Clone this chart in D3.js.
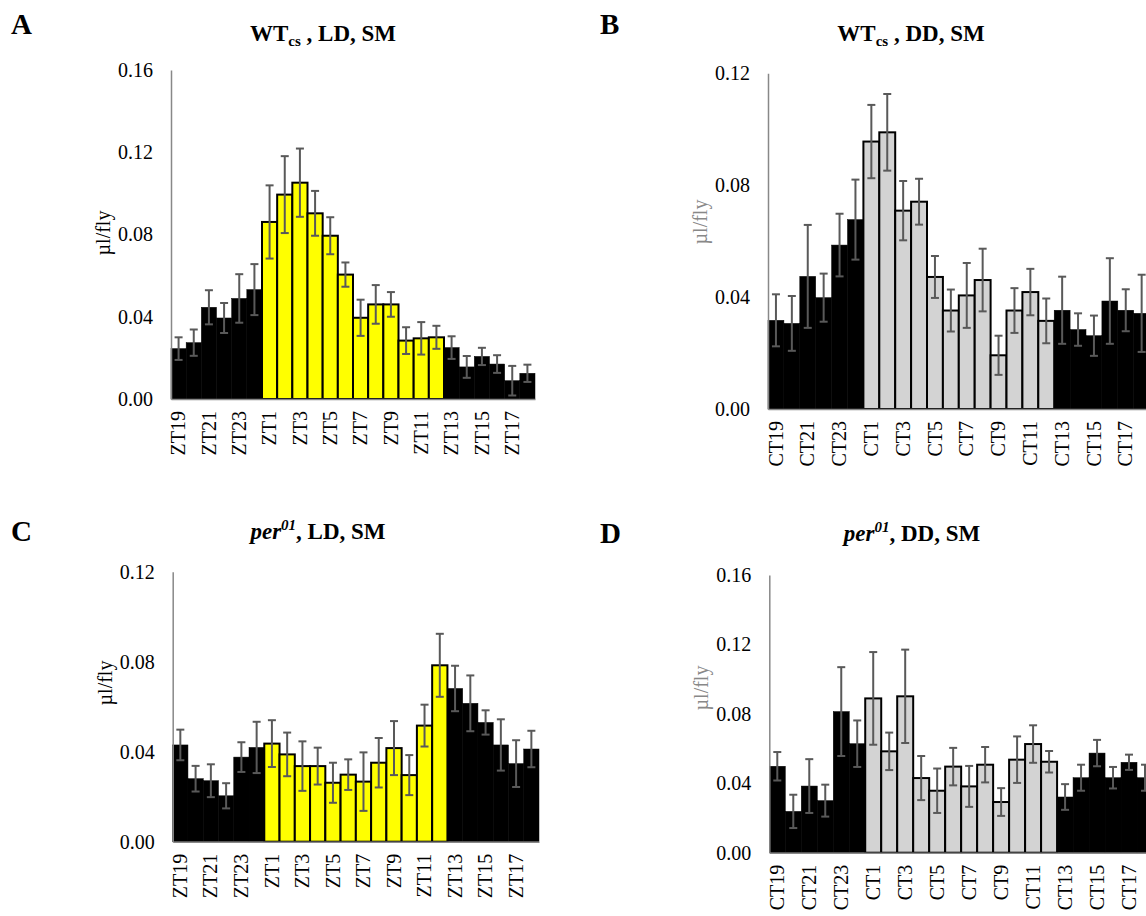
<!DOCTYPE html>
<html>
<head>
<meta charset="utf-8">
<script src="https://cdn.jsdelivr.net/npm/d3@7"></script>
<style>
  html, body { margin: 0; padding: 0; background: #fff; }
  svg { display: block; font-family: "Liberation Serif", "Times New Roman", serif; }
</style>
</head>
<body>
<svg id="chart" width="1146" height="916"></svg>
<script>
// ---------------- DATA ----------------
const ztCategories = ["ZT19","ZT20","ZT21","ZT22","ZT23","ZT24","ZT1","ZT2","ZT3","ZT4","ZT5","ZT6",
                      "ZT7","ZT8","ZT9","ZT10","ZT11","ZT12","ZT13","ZT14","ZT15","ZT16","ZT17","ZT18"];
const ctCategories = ["CT19","CT20","CT21","CT22","CT23","CT24","CT1","CT2","CT3","CT4","CT5","CT6",
                      "CT7","CT8","CT9","CT10","CT11","CT12","CT13","CT14","CT15","CT16","CT17","CT18"];
const ztTickLabels = ["ZT19","ZT21","ZT23","ZT1","ZT3","ZT5","ZT7","ZT9","ZT11","ZT13","ZT15","ZT17"];
const ctTickLabels = ["CT19","CT21","CT23","CT1","CT3","CT5","CT7","CT9","CT11","CT13","CT15","CT17"];
// phase of each time point: 0 = dark / subjective night, 1 = light / subjective day
const phase = [0,0,0,0,0,0, 1,1,1,1,1,1,1,1,1,1,1,1, 0,0,0,0,0,0];

const wtLDmean = [0.0245,0.0274,0.0446,0.0394,0.0489,0.0532,0.0861,0.0994,0.1052,0.0903,0.0794,0.0605,
                  0.0395,0.0460,0.0460,0.0284,0.0295,0.0300,0.0250,0.0156,0.0207,0.0170,0.0089,0.0125];
const wtLDerr  = [0.0055,0.0064,0.0083,0.0073,0.0118,0.0124,0.0178,0.0187,0.0166,0.0109,0.0090,0.0059,
                  0.0088,0.0094,0.0060,0.0065,0.0079,0.0056,0.0055,0.0053,0.0042,0.0043,0.0072,0.0042];

const wtDDmean = [0.0317,0.0306,0.0474,0.0398,0.0586,0.0677,0.0956,0.0989,0.0709,0.0741,0.0472,0.0352,
                  0.0406,0.0461,0.0192,0.0352,0.0418,0.0315,0.0353,0.0284,0.0262,0.0386,0.0353,0.0342];
const wtDDerr  = [0.0093,0.0098,0.0184,0.0086,0.0112,0.0143,0.0131,0.0137,0.0106,0.0082,0.0075,0.0075,
                  0.0116,0.0112,0.0070,0.0080,0.0083,0.0080,0.0120,0.0058,0.0072,0.0153,0.0075,0.0138];

const perLDmean = [0.0430,0.0280,0.0271,0.0204,0.0376,0.0419,0.0436,0.0388,0.0336,0.0336,0.0262,0.0298,
                   0.0267,0.0351,0.0416,0.0296,0.0516,0.0784,0.0681,0.0615,0.0530,0.0430,0.0347,0.0412];
const perLDerr  = [0.0068,0.0057,0.0073,0.0056,0.0066,0.0114,0.0104,0.0097,0.0110,0.0082,0.0089,0.0068,
                   0.0130,0.0110,0.0120,0.0089,0.0093,0.0140,0.0101,0.0124,0.0054,0.0114,0.0104,0.0081];

const perDDmean = [0.0498,0.0238,0.0384,0.0300,0.0813,0.0628,0.0889,0.0584,0.0901,0.0430,0.0357,0.0496,
                   0.0382,0.0507,0.0292,0.0536,0.0626,0.0524,0.0321,0.0432,0.0574,0.0432,0.0521,0.0432];
const perDDerr  = [0.0082,0.0096,0.0155,0.0092,0.0256,0.0134,0.0267,0.0108,0.0269,0.0127,0.0128,0.0108,
                   0.0118,0.0102,0.0080,0.0134,0.0108,0.0062,0.0074,0.0075,0.0076,0.0062,0.0044,0.0075];

const yTicks016 = [0, 0.04, 0.08, 0.12, 0.16];
const yTicks012 = [0, 0.04, 0.08, 0.12];

// ---------------- LAYOUT ----------------
const svg = d3.select("#chart");

const panels = [
  { letter: "A", cats: ztCategories, ticks: ztTickLabels, mean: wtLDmean, err: wtLDerr, lightFill: "#FFFF00",
    yMax: 0.16, yTicks: yTicks016, x0: 171, x1: 535, yTop: 70, yBase: 399,
    letterPos: [11, 34], titleX: 323, titleY: 41, title: "wt", cond: "LD", ylabColor: "#000", ylabY: 233 },
  { letter: "B", cats: ctCategories, ticks: ctTickLabels, mean: wtDDmean, err: wtDDerr, lightFill: "#D3D3D3",
    yMax: 0.12, yTicks: yTicks012, x0: 768, x1: 1149.6, yTop: 73.3, yBase: 409,
    letterPos: [600, 34], titleX: 911, titleY: 41, title: "wt", cond: "DD", ylabColor: "#888", ylabY: 222 },
  { letter: "C", cats: ztCategories, ticks: ztTickLabels, mean: perLDmean, err: perLDerr, lightFill: "#FFFF00",
    yMax: 0.12, yTicks: yTicks012, x0: 172.7, x1: 539, yTop: 571.7, yBase: 841.7,
    letterPos: [11, 541], titleX: 318, titleY: 539, title: "per", cond: "LD", ylabColor: "#000", ylabY: 683 },
  { letter: "D", cats: ctCategories, ticks: ctTickLabels, mean: perDDmean, err: perDDerr, lightFill: "#D3D3D3",
    yMax: 0.16, yTicks: yTicks016, x0: 769.3, x1: 1153, yTop: 575, yBase: 852.7,
    letterPos: [600, 543], titleX: 912, titleY: 541, title: "per", cond: "DD", ylabColor: "#888", ylabY: 688 }
];

panels.forEach(p => {
  const g = svg.append("g");
  const x = d3.scaleBand().domain(p.cats).range([p.x0, p.x1]).padding(0);
  const y = d3.scaleLinear().domain([0, p.yMax]).range([p.yBase, p.yTop]);

  // panel letter
  g.append("text").attr("x", p.letterPos[0]).attr("y", p.letterPos[1])
    .attr("font-size", 29).attr("font-weight", "bold").text(p.letter);

  // title
  const t = g.append("text").attr("x", p.titleX).attr("y", p.titleY)
    .attr("text-anchor", "middle").attr("font-size", 23).attr("font-weight", "bold");
  if (p.title === "wt") {
    t.append("tspan").text("WT");
    t.append("tspan").attr("font-size", 15).attr("dy", 5).text("cs");
    t.append("tspan").attr("dy", -5).text(" , " + p.cond + ", SM");
  } else {
    t.append("tspan").attr("font-style", "italic").text("per");
    t.append("tspan").attr("font-style", "italic").attr("font-size", 15).attr("dy", -9).text("01");
    t.append("tspan").attr("dy", 9).text(", " + p.cond + ", SM");
  }

  // bars
  g.selectAll("rect.bar").data(p.mean).join("rect")
    .attr("class", "bar")
    .attr("x", (d, i) => x(p.cats[i]))
    .attr("width", x.bandwidth())
    .attr("y", d => y(d))
    .attr("height", d => y(0) - y(d))
    .attr("fill", (d, i) => phase[i] ? p.lightFill : "#000")
    .attr("stroke", "#000")
    .attr("stroke-width", (d, i) => phase[i] ? 2 : 0.5);

  // error bars
  const eg = g.append("g").attr("stroke", "#595959").attr("stroke-width", 2).attr("fill", "none");
  p.mean.forEach((m, i) => {
    const cx = x(p.cats[i]) + x.bandwidth() / 2;
    const e = p.err[i];
    const yt = y(m + e), yb = y(Math.max(0, m - e));
    eg.append("line").attr("x1", cx).attr("x2", cx).attr("y1", yt).attr("y2", yb);
    eg.append("line").attr("x1", cx - 4).attr("x2", cx + 4).attr("y1", yt).attr("y2", yt);
    eg.append("line").attr("x1", cx - 4).attr("x2", cx + 4).attr("y1", yb).attr("y2", yb);
  });

  // y axis (line + labels)
  const yAxis = d3.axisLeft(y).tickValues(p.yTicks).tickFormat(d3.format(".2f")).tickSize(0).tickPadding(18);
  const ya = g.append("g").attr("transform", `translate(${p.x0},0)`).call(yAxis);
  ya.attr("font-family", null);
  ya.select(".domain").attr("stroke", "#888").attr("stroke-width", 1.5);
  ya.selectAll("text").attr("font-size", 20).attr("font-family", "Liberation Serif").attr("fill", "#000");

  // x axis (baseline + rotated labels)
  const xAxis = d3.axisBottom(x).tickValues(p.ticks).tickSize(0);
  const xa = g.append("g").attr("transform", `translate(0,${p.yBase})`).call(xAxis);
  xa.attr("font-family", null);
  xa.select(".domain").attr("stroke", "#888").attr("stroke-width", 1.5);
  xa.selectAll("text")
    .attr("font-size", 20).attr("font-family", "Liberation Serif").attr("fill", "#000")
    .attr("text-anchor", "end")
    .attr("transform", "rotate(-90)")
    .attr("x", -12).attr("y", 0).attr("dy", "0.33em");

  // y axis title
  g.append("text")
    .attr("transform", `translate(${p.x0 - 68},${p.ylabY}) rotate(-90)`)
    .attr("text-anchor", "middle").attr("dy", "0.35em")
    .attr("font-size", 20).attr("fill", p.ylabColor).text("µl/fly");
});
</script>
</body>
</html>
